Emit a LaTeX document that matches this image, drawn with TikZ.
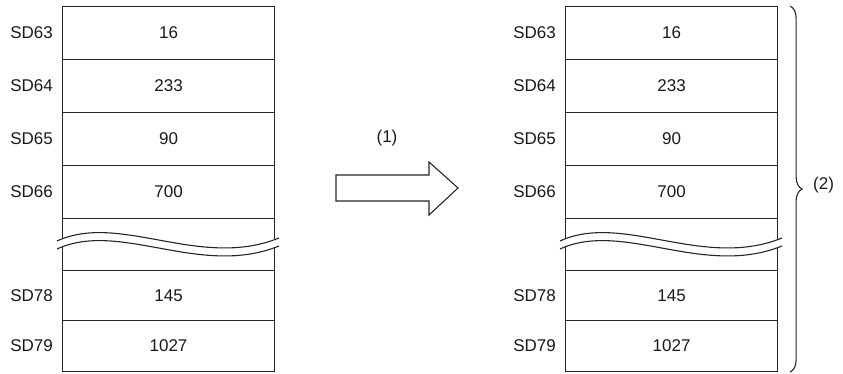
\documentclass[tikz,border=0pt]{standalone}
\usepackage{fontspec}
\setmainfont{Liberation Sans}
\usetikzlibrary{decorations.pathreplacing}
\newcommand\mtable[2]{%
 \begin{scope}[xshift=#2]
  \node[cell, minimum height=53pt] (#1r1) at (62,6) {16};
  \node[cell, minimum height=53pt] (#1r2) at (62,59) {233};
  \node[cell, minimum height=53pt] (#1r3) at (62,112) {90};
  \node[cell, minimum height=53pt] (#1r4) at (62,165) {700};
  \node[cell, minimum height=52pt] (#1r5) at (62,218) {};
  \node[cell, minimum height=50pt] (#1r6) at (62,270) {145};
  \node[cell, minimum height=51pt] (#1r7) at (62,320) {1027};
  \node[lab] at ([xshift=-9pt]#1r1.west) {SD63};
  \node[lab] at ([xshift=-9pt]#1r2.west) {SD64};
  \node[lab] at ([xshift=-9pt]#1r3.west) {SD65};
  \node[lab] at ([xshift=-9pt]#1r4.west) {SD66};
  \node[lab] at ([xshift=-9pt]#1r6.west) {SD78};
  \node[lab] at ([xshift=-9pt]#1r7.west) {SD79};
  \fill[white] (57,241) .. controls (120,212) and (200,270) .. (279,238)
     -- (279,246) .. controls (200,278) and (120,220) .. (57,249) -- cycle;
  \draw[ln] (57,241) .. controls (120,212) and (200,270) .. (279,238);
  \draw[ln] (57,249) .. controls (120,220) and (200,278) .. (279,246);
 \end{scope}}
\begin{document}
\begin{tikzpicture}[x=1pt,y=-1pt,
 ln/.style={draw=black!85, line width=1.1pt},
 cell/.style={ln, minimum width=212pt, inner sep=0pt, anchor=north west,
   font=\fontsize{17}{20}\selectfont, text=black!90},
 lab/.style={anchor=east, inner sep=0pt, font=\fontsize{17}{20}\selectfont, text=black!90}]
\useasboundingbox (0,0) rectangle (843,374);
\mtable{L}{0pt}
\mtable{R}{503pt}
\draw[ln, line join=miter] (336,175) -- (429,175) -- (429,162) -- (458,188)
  -- (429,215) -- (429,201) -- (336,201) -- cycle;
\node[font=\fontsize{17}{20}\selectfont, text=black!90] (one) at (387,138) {(1)};
\coordinate (bt) at ([xshift=12pt]Rr1.north east);
\coordinate (bb) at ([xshift=12pt]Rr7.south east);
\draw[ln, decorate, decoration={brace, amplitude=12pt}] (bt) -- (bb);
\node[anchor=west, inner sep=0pt, font=\fontsize{17}{20}\selectfont, text=black!90] (two) at (813,185) {(2)};
\end{tikzpicture}
\end{document}
